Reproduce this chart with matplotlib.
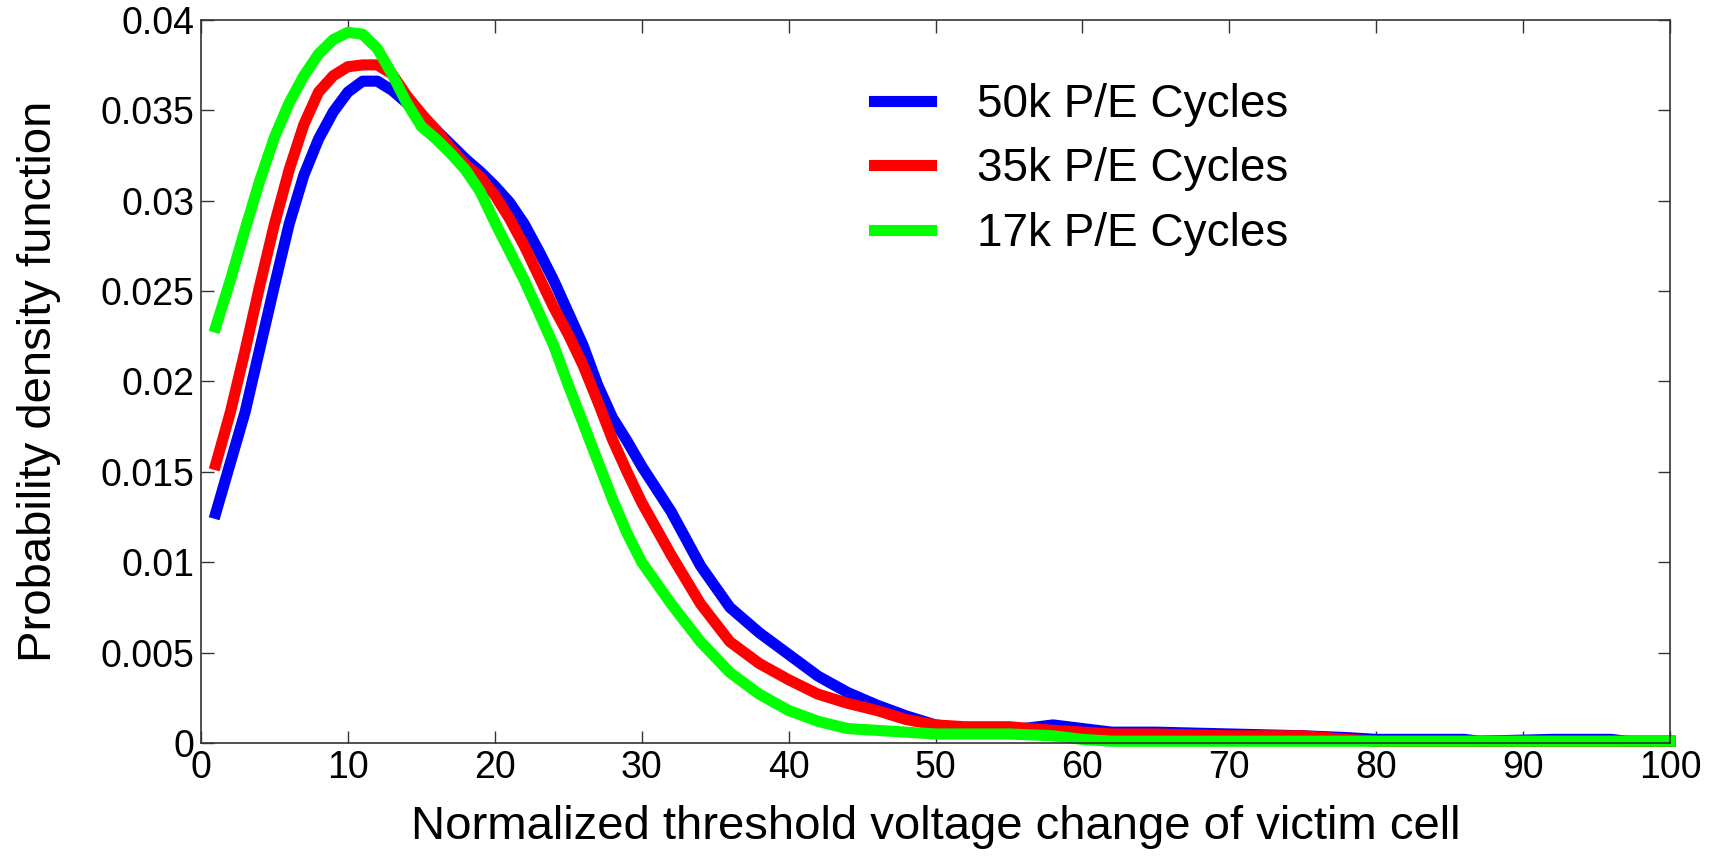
import numpy as np
import matplotlib
matplotlib.use('Agg')
import matplotlib.pyplot as plt

plt.rcParams['font.family'] = ['Liberation Sans', 'DejaVu Sans']

# x positions where the curves were read
x_vals = [1, 2, 3, 4, 5, 6, 7, 8, 9, 10, 11, 12, 13, 14, 15, 16, 17, 18, 19, 20,
          21, 22, 23, 24, 25, 26, 27, 28, 29, 30, 32, 34, 36, 38, 40, 42, 44, 46, 48, 50,
          52, 55, 58, 60, 62, 65, 70, 75, 78, 80, 86, 87, 92, 96, 97, 100]

pdf_50k = [0.0127, 0.0155, 0.0183, 0.0218, 0.0253, 0.0287, 0.0314, 0.0334, 0.0349, 0.0360,
           0.0366, 0.0366, 0.0361, 0.0354, 0.0346, 0.0339, 0.0331, 0.0323, 0.0316, 0.0308,
           0.0299, 0.0287, 0.0272, 0.0256, 0.0238, 0.0220, 0.0198, 0.0180, 0.0167, 0.0153,
           0.0128, 0.0098, 0.0075, 0.0061, 0.0049, 0.0037, 0.0028, 0.0021, 0.0015, 0.0010,
           0.0008, 0.0007, 0.0010, 0.0008, 0.0006, 0.0006, 0.0005, 0.0004, 0.0003, 0.0002,
           0.0002, 0.0001, 0.0002, 0.0002, 0.0001, 0.0001]

pdf_35k = [0.0154, 0.0183, 0.0217, 0.0253, 0.0287, 0.0317, 0.0342, 0.0360, 0.0369, 0.0374,
           0.0375, 0.0375, 0.0370, 0.0358, 0.0348, 0.0339, 0.0329, 0.0320, 0.0313, 0.0303,
           0.0290, 0.0275, 0.0258, 0.0241, 0.0226, 0.0209, 0.0189, 0.0168, 0.0150, 0.0133,
           0.0104, 0.0077, 0.0056, 0.0044, 0.0035, 0.0027, 0.0022, 0.0018, 0.0013, 0.0010,
           0.0009, 0.0009, 0.0007, 0.0006, 0.0005, 0.0005, 0.0004, 0.0004, 0.0002, 0.0001,
           0.0001, 0.0001, 0.0001, 0.0001, 0.0001, 0.0001]

pdf_17k = [0.0230, 0.0256, 0.0284, 0.0311, 0.0335, 0.0354, 0.0369, 0.0381, 0.0389, 0.0393,
           0.0392, 0.0384, 0.0370, 0.0354, 0.0341, 0.0334, 0.0326, 0.0317, 0.0305, 0.0288,
           0.0272, 0.0256, 0.0238, 0.0220, 0.0198, 0.0177, 0.0156, 0.0135, 0.0116, 0.0100,
           0.0077, 0.0056, 0.0039, 0.0027, 0.0018, 0.0012, 0.0008, 0.0007, 0.0006, 0.0005,
           0.0005, 0.0005, 0.0004, 0.0002, 0.0001, 0.0001, 0.0001, 0.0001, 0.0001, 0.0001,
           0.0001, 0.0001, 0.0001, 0.0001, 0.0001, 0.0001]

labels = ['50k P/E Cycles', '35k P/E Cycles', '17k P/E Cycles']
colors = ['#0000ff', '#ff0000', '#00ff00']

x_ticks = np.arange(0, 101, 10)
y_ticks = [0, 0.005, 0.01, 0.015, 0.02, 0.025, 0.03, 0.035, 0.04]
y_tick_labels = ['0', '0.005', '0.01', '0.015', '0.02', '0.025', '0.03', '0.035', '0.04']

fig = plt.figure(figsize=(17.21, 8.56), dpi=100)
ax = fig.add_axes([0.1168, 0.132, 0.8536, 0.845])

for ys, lab, c in zip([pdf_50k, pdf_35k, pdf_17k], labels, colors):
    ax.plot(x_vals, ys, color=c, lw=8, label=lab, solid_joinstyle='round', clip_on=False)

ax.set_xlim(0, 100)
ax.set_ylim(0, 0.04)
ax.set_xticks(x_ticks)
ax.set_yticks(y_ticks)
ax.set_yticklabels(y_tick_labels)
ax.tick_params(direction='in', length=9, width=1, top=True, right=True,
               labelsize=27, colors='#333333', labelcolor='black', pad=5)
for s in ax.spines.values():
    s.set_color('#333333')
    s.set_linewidth(1.2)

ax.set_xlabel('Normalized threshold voltage change of victim cell', fontsize=34, labelpad=14)
ax.set_ylabel('Probability density function', fontsize=34, labelpad=28)

ax.legend(loc='upper left', bbox_to_anchor=(0.43, 0.97), frameon=False, fontsize=33,
          handlelength=1.25, handletextpad=1.0, labelspacing=0.45)

plt.savefig('out.png', dpi=100)
